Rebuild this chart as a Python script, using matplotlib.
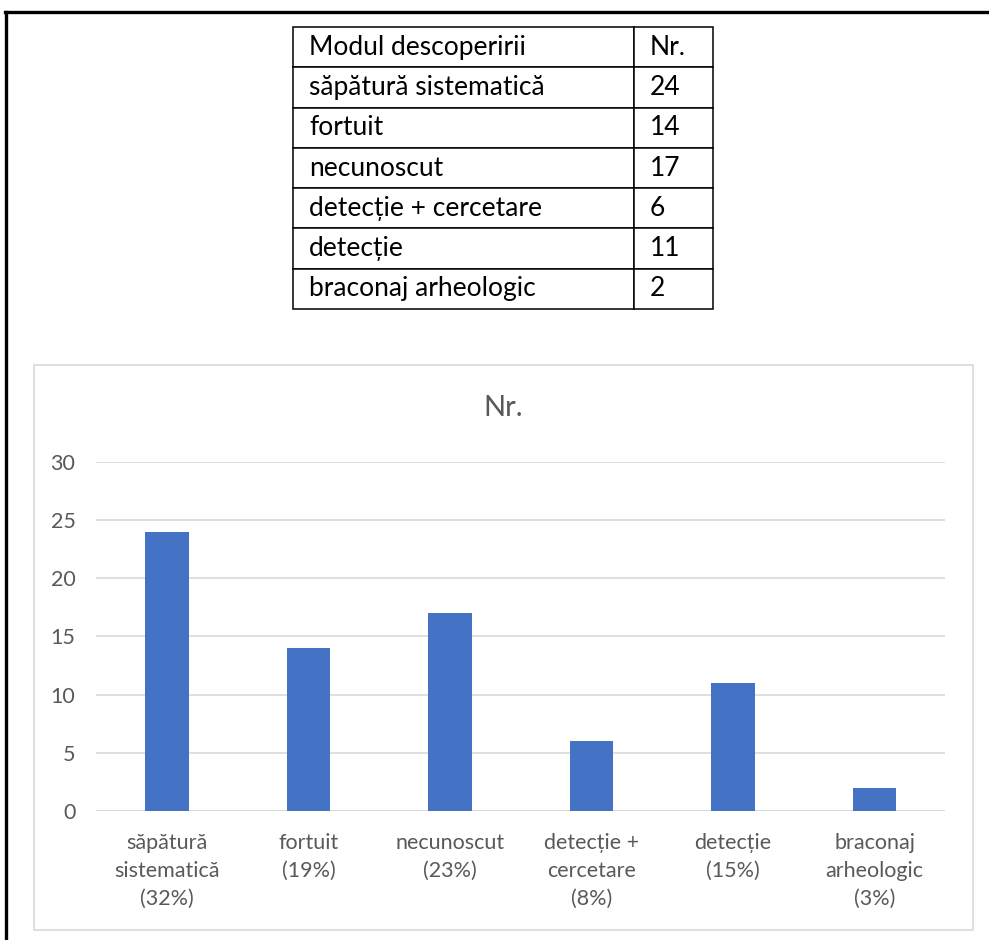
import matplotlib
matplotlib.use("Agg")
import matplotlib.pyplot as plt
from matplotlib.lines import Line2D
from matplotlib.patches import Rectangle

plt.rcParams['font.family'] = ['Lato', 'DejaVu Sans']

# ---- data ----
categories = ["săpătură sistematică", "fortuit", "necunoscut",
              "detecție + cercetare", "detecție", "braconaj arheologic"]
values = [24, 14, 17, 6, 11, 2]
tick_names = ["săpătură\nsistematică", "fortuit", "necunoscut",
              "detecție +\ncercetare", "detecție", "braconaj\narheologic"]
table_header = ["Modul descoperirii", "Nr."]
chart_title = "Nr."
y_ticks = [0, 5, 10, 15, 20, 25, 30]

W, H = 989, 940
fig = plt.figure(figsize=(W / 100, H / 100), dpi=100)
fig.patch.set_facecolor("white")

def fx(px):
    return px / W

def fy(py):
    return 1 - py / H

# outer border (top and left only)
fig.add_artist(Line2D([fx(5), 1.0], [fy(12), fy(12)], color="black", lw=2.4,
                      transform=fig.transFigure))
fig.add_artist(Line2D([fx(6), fx(6)], [fy(12), 0.0], color="black", lw=2.4,
                      transform=fig.transFigure))

# chart frame
fig.add_artist(Rectangle((fx(34), fy(930)), fx(973) - fx(34), fy(365) - fy(930),
                         transform=fig.transFigure, fill=False,
                         edgecolor="#D9D9D9", lw=1.2))

# ---- table ----
tl, tr, tt, tb = 293, 713, 27, 309
tax = fig.add_axes([fx(tl), fy(tb), fx(tr) - fx(tl), fy(tt) - fy(tb)])
tax.axis("off")
cell_text = [table_header] + [[c, str(v)] for c, v in zip(categories, values)]
col_w = [(634 - tl) / (tr - tl), (tr - 634) / (tr - tl)]
tbl = tax.table(cellText=cell_text, colWidths=col_w, cellLoc="left",
                bbox=[0, 0, 1, 1])
tbl.auto_set_font_size(False)
for (r, c), cell in tbl.get_celld().items():
    cell.set_fontsize(19)
    cell.set_edgecolor("black")
    cell.set_linewidth(1.1)
    cell.PAD = 16 / ((tr - tl) * col_w[c])
    cell.get_text().set_color("black")

# ---- bar chart ----
x0, x1 = 96.25, 945.25
y0, y30 = 811, 461.7
ax = fig.add_axes([fx(x0), fy(y0), fx(x1) - fx(x0), fy(y30) - fy(y0)])
total = sum(values)
labels = [f"{n}\n({round(100 * v / total)}%)" for n, v in zip(tick_names, values)]
xs = list(range(len(values)))
ax.bar(xs, values, width=0.31, color="#4472C4", zorder=3)
ax.set_xlim(-0.5, len(values) - 0.5)
ax.set_ylim(0, 30)
ax.set_yticks(y_ticks)
ax.set_xticks(xs)
ax.set_xticklabels(labels, linespacing=1.5)
ax.tick_params(axis="both", length=0, labelsize=15.5, labelcolor="#595959")
ax.tick_params(axis="y", pad=15)
ax.tick_params(axis="x", pad=16)
ax.grid(axis="y", color="#D9D9D9", lw=1.2, zorder=0)
for s in ax.spines.values():
    s.set_visible(False)
ax.axhline(0, color="#D9D9D9", lw=1.4, zorder=2)

fig.text(fx(503.5), fy(408), chart_title, ha="center", va="center",
         fontsize=21, color="#595959")

fig.savefig("out.png", dpi=100)
